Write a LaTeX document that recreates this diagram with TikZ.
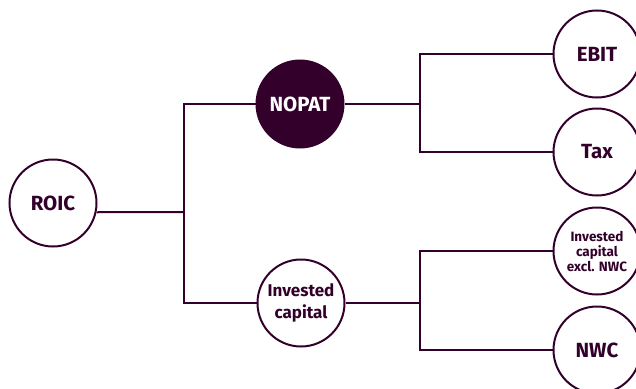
\documentclass[tikz,border=0pt]{standalone}
\usepackage{fontspec}
\setsansfont{Fira Sans}
\usepackage{tikz}
\definecolor{purp}{HTML}{32002A}
\tikzset{
  circ/.style={circle, draw=purp, line width=2pt, minimum size=87pt, inner sep=0pt, align=center, text=purp, font=\sffamily\bfseries\fontsize{20.5}{22}\selectfont, fill=white},
  circfill/.style={circ, fill=purp, text=white},
  small/.style={font=\sffamily\bfseries\fontsize{17}{22}\selectfont},
  tiny/.style={font=\sffamily\bfseries\fontsize{13.5}{15}\selectfont},
  conn/.style={draw=purp, line width=2pt}
}
\begin{document}
\begin{tikzpicture}[x=1pt,y=-1pt]
\useasboundingbox (0,0) rectangle (636,388);
\node[circ] (roic) at (53,203) {ROIC};
\node[circfill] (nopat) at (300,104) {NOPAT};
\node[circ, small] (ic) at (301,303) {Invested\\capital};
\node[circ] (ebit) at (597,54) {EBIT};
\node[circ] (tax) at (597,152) {Tax};
\node[circ, tiny] (icx) at (597,251) {Invested\\capital\\excl. NWC};
\node[circ] (nwc) at (597,350) {NWC};
\coordinate (j1) at (184,212);
\coordinate (j2) at (420,104);
\coordinate (j3) at (420,303);
\draw[conn] (roic.-12) -- (j1);
\draw[conn] (nopat.west) -| (j1) |- (ic.west);
\draw[conn] (nopat.east) -- (j2);
\draw[conn] (ebit.west) -| (j2) |- (tax.west);
\draw[conn] (ic.east) -- (j3);
\draw[conn] (icx.west) -| (j3) |- (nwc.west);
\end{tikzpicture}
\end{document}
